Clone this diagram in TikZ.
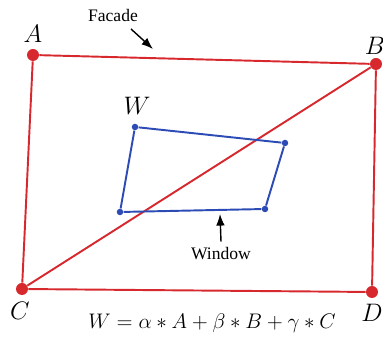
\documentclass[tikz,border=0pt]{standalone}
\usepackage{amsmath,amssymb}
\usepackage{fontspec}
\setmainfont{Liberation Serif}
\usetikzlibrary{arrows.meta}
\definecolor{facadered}{RGB}{215,40,45}
\definecolor{windowblue}{RGB}{45,75,180}
\tikzset{
  corner/.style={circle, fill=facadered, inner sep=0pt, minimum size=0.24cm},
  wcorner/.style={circle, fill=windowblue, inner sep=0pt, minimum size=0.13cm},
  tag/.style={font=\normalsize}
}

\begin{document}
\begin{tikzpicture}[x=0.02cm, y=-0.02cm, >=Latex]

\useasboundingbox (0,0) rectangle (383,337);

% facade corners
\node[corner] (A) at (33,55) {};
\node[corner] (B) at (376,64) {};
\node[corner] (C) at (22,289) {};
\node[corner] (D) at (372,292) {};

\draw[facadered, line width=1.1pt] (A) -- (B) -- (D) -- (C) -- (A);
\draw[facadered, line width=1.1pt] (C) -- (B);

\node at (33,34) {\Large $A$};
\node at (375,46) {\Large $B$};
\node at (20,311) {\Large $C$};
\node at (372,313) {\Large $D$};

% window corners
\node[wcorner] (W1) at (135,127) {};
\node[wcorner] (W2) at (285,143) {};
\node[wcorner] (W3) at (265,209) {};
\node[wcorner] (W4) at (120,212) {};

\draw[windowblue, line width=1.1pt] (W1) -- (W2) -- (W3) -- (W4) -- (W1);

\node at (137,106) {\Large $W$};

% labels
\node[tag] (facade) at (113,15) {Facade};
\coordinate (facadetip) at (153,49);
\draw[->, thick] (131,29) -- (facadetip);

\node[tag] (window) at (221,254) {Window};
\coordinate (windowtip) at (220,214);
\draw[->, thick] (window.north) -- (windowtip);

\node (formula) at (212,323) {\large $W=\alpha*A+\beta*B+\gamma*C$};

\end{tikzpicture}
\end{document}
